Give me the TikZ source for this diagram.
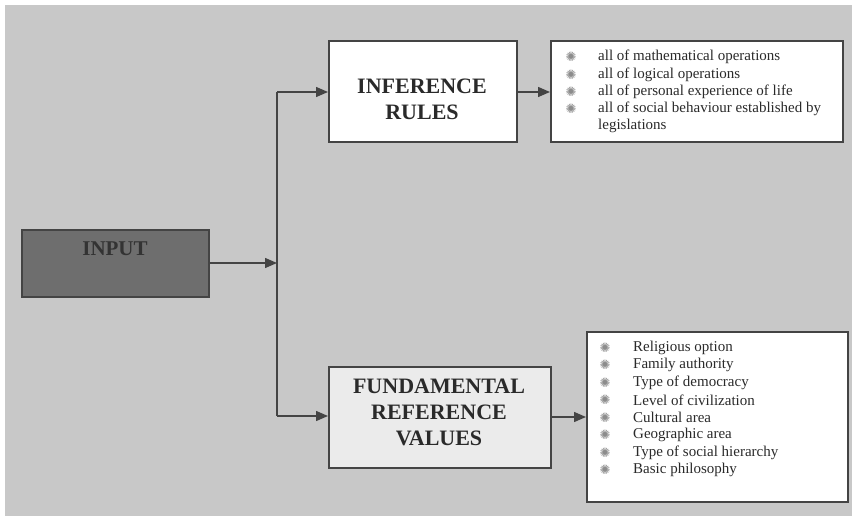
\documentclass[tikz,border=0pt]{standalone}
\usepackage{fontspec}
\setmainfont{Liberation Serif}
\newfontfamily\symfont{DejaVu Sans}
\usetikzlibrary{arrows.meta}
\definecolor{bg}{HTML}{C8C8C8}
\definecolor{inputfill}{HTML}{6E6E6E}
\definecolor{fundfill}{HTML}{EBEBEB}
\definecolor{edge}{HTML}{444444}
\definecolor{txt}{HTML}{2A2A2A}
\tikzset{
  box/.style={draw=edge, line width=1.8pt, inner sep=0pt, anchor=north west},
  title/.style={font=\bfseries\fontsize{22}{26}\selectfont, text=txt, align=center},
  listtxt/.style={font=\fontsize{15}{17.2}\selectfont, text=txt, anchor=west, inner sep=0pt},
  bul/.style={font=\symfont\fontsize{13}{13}\selectfont, text=gray!90, anchor=center, inner sep=0pt},
  conn/.style={draw=edge, line width=1.4pt},
  arr/.style={conn, -{Triangle[length=12pt,width=10pt]}}
}
\begin{document}
\begin{tikzpicture}[x=1pt,y=-1pt]
\useasboundingbox (0,0) rectangle (852,516);
\fill[white] (0,0) rectangle (852,516);
\fill[bg] (5,5) rectangle (852,516);
% boxes
\node[box, fill=inputfill, minimum width=187pt, minimum height=67pt] (input) at (21,229) {};
\node[font=\bfseries\fontsize{21}{22}\selectfont, text=black!80] (inputlbl) at (115,249) {INPUT};
\node[box, fill=white, minimum width=188pt, minimum height=101pt] (infer) at (328,40) {};
\node[title] (inferlbl) at (422,99) {INFERENCE\\RULES};
\node[box, fill=fundfill, minimum width=222pt, minimum height=101pt] (fund) at (328,366) {};
\node[title] (fundlbl) at (439,412) {FUNDAMENTAL\\REFERENCE\\VALUES};
\node[box, fill=white, minimum width=292pt, minimum height=101pt] (list1) at (550,40) {};
\node[box, fill=white, minimum width=261pt, minimum height=170pt] (list2) at (586,331) {};
% list 1
\foreach \t [count=\i] in {all of mathematical operations, all of logical operations, all of personal experience of life, all of social behaviour established by}{
  \node[bul] (b1\i) at (571,{40+17.2*\i}) {✺};
  \node[listtxt] (t1\i) at (598,{40+17.2*\i}) {\t};
}
\node[listtxt] (t15) at (598,{40+17.2*5}) {legislations};
% list 2
\foreach \t [count=\i] in {Religious option, Family authority, Type of democracy, Level of civilization, Cultural area, Geographic area, Type of social hierarchy, Basic philosophy}{
  \node[bul] (b2\i) at (605,{330+17.5*\i}) {✺};
  \node[listtxt] (t2\i) at (633,{330+17.5*\i}) {\t};
}
% connectors
\coordinate (j) at (277,263);
\coordinate (top) at (277,92);
\coordinate (bot) at (277,416);
\draw[arr] (208,263) -- (j);
\draw[conn] (top) -- (bot);
\draw[arr] (top) -- (infer.west |- top);
\draw[arr] (bot) -- (fund.west |- bot);
\draw[arr] (infer.east |- top) -- (list1.west |- top);
\draw[arr] (fund.east |- 0,417) -- (list2.west |- 0,417);
\end{tikzpicture}
\end{document}
